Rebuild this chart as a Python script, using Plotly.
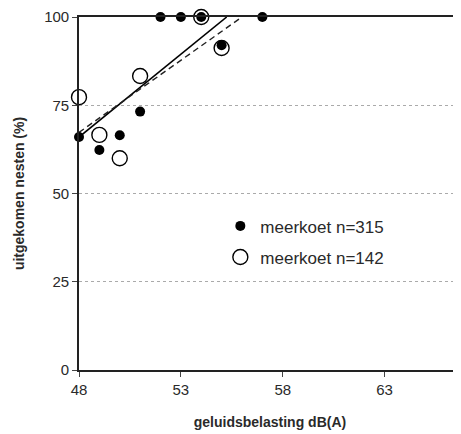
import plotly.graph_objects as go

# Data
filled_x = [48, 49, 50, 51, 52, 53, 54, 55, 57]
filled_y = [66.0, 62.3, 66.5, 73.2, 100, 100, 100, 92.0, 100]
open_x = [48, 49, 50, 51, 54, 55]
open_y = [77.3, 66.6, 60.0, 83.3, 100, 91.2]
trend_filled_x = [48, 55.25]
trend_filled_y = [66.0, 100]
trend_open_x = [48, 56.0]
trend_open_y = [67.3, 100]
xticks = [48, 53, 58, 63]
yticks = [0, 25, 50, 75, 100]

fig = go.Figure()
fig.add_trace(go.Scatter(x=trend_filled_x, y=trend_filled_y, mode="lines",
                         line=dict(color="black", width=1.6), showlegend=False, hoverinfo="skip"))
fig.add_trace(go.Scatter(x=trend_open_x, y=trend_open_y, mode="lines",
                         line=dict(color="#222", width=1.4, dash="6px,4px"), showlegend=False, hoverinfo="skip"))
fig.add_trace(go.Scatter(x=filled_x, y=filled_y, mode="markers", name="meerkoet n=315",
                         legendgroup="a",
                         marker=dict(symbol="circle", size=10, color="black"), cliponaxis=False))
fig.add_trace(go.Scatter(x=open_x, y=open_y, mode="markers", name="meerkoet n=142",
                         legendgroup="b",
                         marker=dict(symbol="circle-open", size=15, color="black", line=dict(width=1.4)),
                         cliponaxis=False))

font = "Liberation Sans, Arial, sans-serif"
fig.update_layout(
    width=453, height=426,
    margin=dict(l=71, r=0, t=9, b=64, autoexpand=False),
    paper_bgcolor="white", plot_bgcolor="white",
    font=dict(family=font, size=15, color="#2a2a2a"),
    showlegend=True,
    legend=dict(x=0.37, y=0.458, xanchor="left", yanchor="top",
                font=dict(size=17, color="#2a2a2a"), bgcolor="rgba(0,0,0,0)",
                itemsizing="trace", itemwidth=30, tracegroupgap=6),
    xaxis=dict(range=[48, 66.75], tickvals=xticks, ticks="outside", ticklen=5,
               tickcolor="#444", showgrid=False, zeroline=False, automargin=False,
               showline=True, linecolor="#222", linewidth=1.6, mirror=True,
               tickfont=dict(size=15, color="#2a2a2a"),
               title=dict(text="<b>geluidsbelasting dB(A)</b>", font=dict(size=14, color="#2a2a2a"), standoff=20)),
    yaxis=dict(range=[0, 100], tickvals=yticks, ticks="outside", ticklen=5,
               tickcolor="#444", showgrid=True, gridcolor="#aaa", griddash="dot", gridwidth=1,
               zeroline=False, showline=True, linecolor="#222", linewidth=1.6, automargin=False,
               tickfont=dict(size=15, color="#2a2a2a"),
               title=dict(text="<b>uitgekomen nesten (%)</b>", font=dict(size=14, color="#2a2a2a"), standoff=16)),
)

fig.write_html("out.html")
